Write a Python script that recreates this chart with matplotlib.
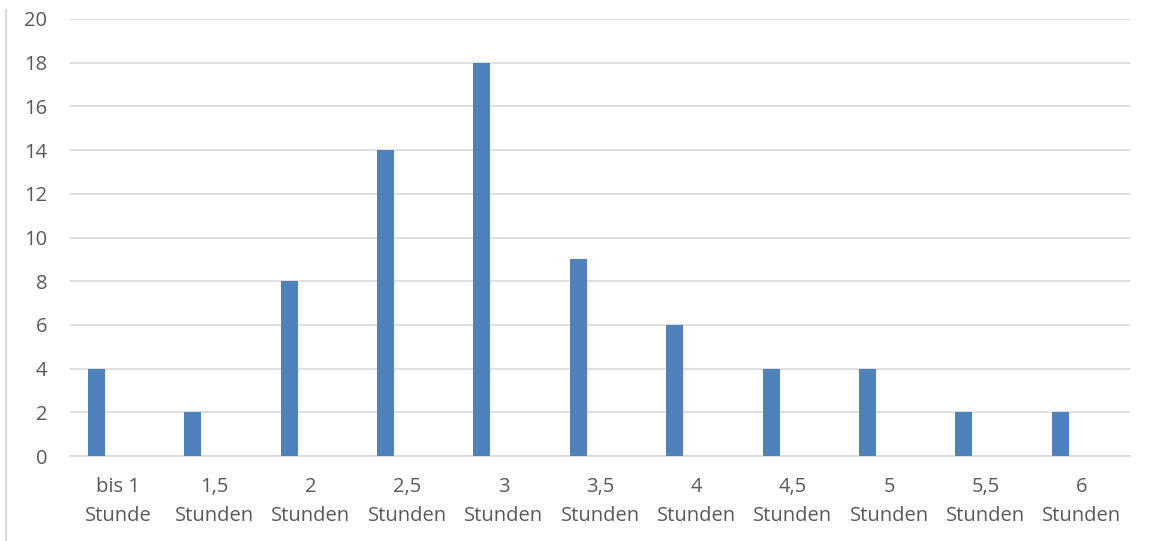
import matplotlib
matplotlib.use("Agg")
import matplotlib.pyplot as plt
from matplotlib.lines import Line2D
import numpy as np

categories = ["bis 1\nStunde", "1,5\nStunden", "2\nStunden", "2,5\nStunden", "3\nStunden",
              "3,5\nStunden", "4\nStunden", "4,5\nStunden", "5\nStunden", "5,5\nStunden", "6\nStunden"]
values = [4, 2, 8, 14, 18, 9, 6, 4, 4, 2, 2]
yticks = [0, 2, 4, 6, 8, 10, 12, 14, 16, 18, 20]

W, H = 1151, 541
fig = plt.figure(figsize=(W/100, H/100), dpi=100)
ax = fig.add_axes([70/W, 1-456/H, (1130-70)/W, (456-19)/H])

plt.rcParams['font.family'] = ['Open Sans', 'DejaVu Sans']
txt = '#595959'
x = np.arange(len(categories))
ax.bar(x - 0.225, values, width=0.176, color='#4f81bd', zorder=3)
ax.set_xlim(-0.5, len(categories) - 0.5)
ax.set_ylim(0, 20)
ax.set_yticks(yticks)
ax.set_yticklabels([str(v) for v in yticks], fontsize=14.5, color=txt, family=['Open Sans'])
ax.set_xticks(x)
ax.set_xticklabels(categories, fontsize=14.5, color=txt, family=['Open Sans'], linespacing=1.6)
ax.tick_params(axis='both', length=0)
ax.tick_params(axis='y', pad=16.5)
ax.tick_params(axis='x', pad=15)
ax.grid(axis='y', color='#d9d9d9', linewidth=1.2, zorder=0)
for s in ['top', 'right', 'left']:
    ax.spines[s].set_visible(False)
ax.spines['bottom'].set_color('#d9d9d9')
ax.spines['bottom'].set_linewidth(1.2)

fig.add_artist(Line2D([6/W, 6/W], [0, 1-10/H], transform=fig.transFigure, color='#d9d9d9', linewidth=1.5))

fig.savefig('out.png', dpi=100)
